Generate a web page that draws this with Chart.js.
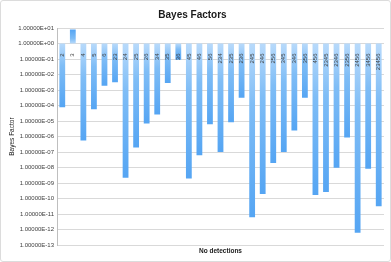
<!DOCTYPE html>
<html>
<head>
<meta charset="utf-8">
<script src="https://cdn.jsdelivr.net/npm/chart.js@4/dist/chart.umd.min.js"></script>
<style>
    html, body { margin: 0; padding: 0; background: #fff; }
    #wrap { width: 391px; height: 262px; box-sizing: border-box; border: 1px solid #dcdcdc; border-radius: 3px; }
    canvas { display: block; }
</style>
</head>
<body>
<div id="wrap"><canvas id="bayesChart" width="389" height="260"></canvas></div>
<script>
// Combinations of detectors, one bar each
const combos = ['2', '3', '4', '5', '6', '23', '24', '25', '26', '34', '35', '36', '45', '46', '56',
    '234', '235', '236', '245', '246', '256', '345', '346', '356', '456',
    '2345', '2346', '2356', '2456', '3456', '23456'];

// Bayes factor per combination
const bayes = [7.9e-5, 7.9, 5.6e-7, 5.9e-5, 1.9e-3, 3.2e-3, 2.2e-9, 2.0e-7, 7.1e-6, 2.7e-5, 2.8e-3, 9.1e-2,
    2.0e-9, 6.3e-8, 6.3e-6, 1.0e-7, 8.3e-6, 3.2e-4, 6.3e-12, 2.0e-10, 2.0e-8, 1.0e-7, 2.5e-6, 3.2e-4,
    1.7e-10, 2.7e-10, 1.0e-8, 8.9e-7, 6.3e-13, 8.5e-9, 3.2e-11];

// Decades shown on the y axis
const decades = [1, 0, -1, -2, -3, -4, -5, -6, -7, -8, -9, -10, -11, -12, -13];

const baseline = 1;

function formatSci(v) {
    const e = Math.round(Math.log10(v));
    const sign = e < 0 ? '-' : '+';
    const abs = Math.abs(e);
    return '1.00000E' + sign + (abs < 10 ? '0' + abs : abs);
}

function barFill(c) {
    const chart = c.chart;
    if (!chart.chartArea || c.type !== 'data') return '#6fb3f5';
    const ys = chart.scales.y;
    const y0 = ys.getPixelForValue(baseline);
    const y1 = ys.getPixelForValue(bayes[c.dataIndex]);
    if (!isFinite(y0) || !isFinite(y1) || y0 === y1) return '#6fb3f5';
    const g = chart.ctx.createLinearGradient(0, y0, 0, y1);
    g.addColorStop(0, '#b8dafb');
    g.addColorStop(0.35, '#7fbdf6');
    g.addColorStop(1, '#55a5f3');
    return g;
}

const ctx = document.getElementById('bayesChart').getContext('2d');
new Chart(ctx, {
    type: 'bar',
    data: {
        labels: combos,
        datasets: [{
            data: bayes.map(v => [baseline, v]),
            backgroundColor: barFill,
            borderWidth: 0,
            barPercentage: 0.55,
            categoryPercentage: 1
        }]
    },
    options: {
        responsive: false,
        animation: false,
        layout: { padding: { left: 0, right: 6, top: 0, bottom: 0 } },
        plugins: {
            legend: { display: false },
            tooltip: { enabled: false },
            title: {
                display: true,
                text: 'Bayes Factors',
                color: '#1a1a1a',
                font: { family: 'Liberation Sans', size: 10, weight: 'bold' },
                padding: { top: 8, bottom: 7 }
            },
            subtitle: {
                display: true,
                position: 'bottom',
                fullSize: false,
                text: 'No detections',
                color: '#1a1a1a',
                font: { family: 'Liberation Sans', size: 6.5, weight: 'bold' },
                padding: { top: 2, bottom: 6 }
            }
        },
        scales: {
            x: {
                position: { y: baseline },
                grid: { display: false },
                border: { display: false },
                ticks: {
                    z: 1,
                    autoSkip: false,
                    minRotation: 90,
                    maxRotation: 90,
                    padding: 2,
                    color: '#404040',
                    font: { family: 'Liberation Sans', size: 6 }
                }
            },
            y: {
                type: 'logarithmic',
                min: 1e-13,
                max: 10,
                afterBuildTicks: (scale) => {
                    scale.ticks = decades.map(e => ({ value: Math.pow(10, e) }));
                },
                afterFit: (scale) => { scale.width = 56; },
                grid: { color: '#d9d9d9', drawTicks: false },
                border: { color: '#bfbfbf' },
                ticks: {
                    padding: 3,
                    color: '#404040',
                    font: { family: 'Liberation Sans', size: 6 },
                    callback: (v) => formatSci(v)
                },
                title: {
                    display: true,
                    text: 'Bayes Factor',
                    color: '#1a1a1a',
                    font: { family: 'Liberation Sans', size: 6.5 },
                    padding: { top: 7, bottom: 0 }
                }
            }
        }
    }
});
</script>
</body>
</html>
